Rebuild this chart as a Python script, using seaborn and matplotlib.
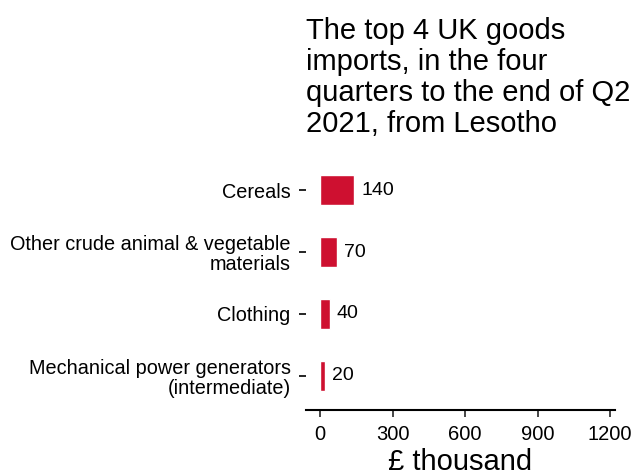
import matplotlib
matplotlib.use("Agg")
import matplotlib.pyplot as plt
import seaborn as sns
import pandas as pd

categories = ["Cereals", "Other crude animal & vegetable\nmaterials", "Clothing",
              "Mechanical power generators\n(intermediate)"]
values = [140, 70, 40, 20]
xticks = [0, 300, 600, 900, 1200]

sns.set_theme(style="white")
plt.rcParams['font.family'] = ['Liberation Sans', 'DejaVu Sans']

df = pd.DataFrame({"category": categories, "value": values})

fig = plt.figure(figsize=(6.34, 4.75), dpi=100)
ax = fig.add_axes([306/634, 1 - 410/475, (615-306)/634, (410-156)/475])
sns.barplot(data=df, y="category", x="value", color="#CE1030", width=0.49,
            saturation=1, ax=ax, orient="h")
ax.set_xlim(-58, 1220)
ax.set_ylim(3.55, -0.55)
ax.set_xticks(xticks)
ax.set_xticklabels([str(t) for t in xticks], fontsize=14.5, color="black")
ax.tick_params(axis="y", labelsize=14.3, colors="black", length=5, width=1.2, pad=6, left=True)
ax.tick_params(axis="x", length=5, width=1.2, pad=6, bottom=True)
for lab in ax.get_yticklabels():
    lab.set_color("black")
    lab.set_linespacing(1.05)
for s in ["top", "right", "left"]:
    ax.spines[s].set_visible(False)
ax.spines["bottom"].set_linewidth(1.5)
ax.spines["bottom"].set_color("black")
ax.set_ylabel("")
ax.set_xlabel("£ thousand", fontsize=21, color="black", labelpad=3)
for i, v in enumerate(values):
    ax.text(v + 30, i, str(v), va="center", ha="left", fontsize=14, color="black")
fig.text(306/634, 1 - 17/475, "The top 4 UK goods\nimports, in the four\nquarters to the end of Q2\n2021, from Lesotho",
         ha="left", va="top", fontsize=21, color="black", linespacing=1.13)
fig.savefig("out.png", dpi=100)
